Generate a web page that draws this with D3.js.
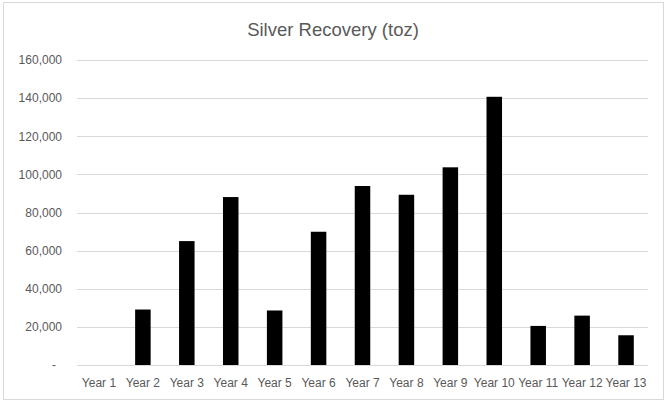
<!DOCTYPE html>
<html>
<head>
<meta charset="utf-8">
<script src="https://cdn.jsdelivr.net/npm/d3@7"></script>
<style>
  html, body { margin: 0; padding: 0; background: #ffffff; }
  svg { display: block; }
</style>
</head>
<body>
<svg id="chart" width="668" height="405"></svg>
<script>
const title = "Silver Recovery (toz)";
const categories = ["Year 1","Year 2","Year 3","Year 4","Year 5","Year 6","Year 7","Year 8","Year 9","Year 10","Year 11","Year 12","Year 13"];
const silverToz = [0, 29100, 65000, 88100, 28600, 69900, 93900, 89300, 103700, 140700, 20500, 25900, 15600];
const yTicks = [0, 20000, 40000, 60000, 80000, 100000, 120000, 140000, 160000];

const svg = d3.select("#chart");
const font = "'Liberation Sans', Arial, sans-serif";
const textColor = "#595959";
const gridColor = "#d9d9d9";

// chart border
svg.append("rect")
  .attr("x", 3.5).attr("y", 2.5)
  .attr("width", 660).attr("height", 397)
  .attr("fill", "#ffffff")
  .attr("stroke", gridColor)
  .attr("stroke-width", 1);

const plot = { left: 77, right: 648, top: 60, bottom: 365 };

const x = d3.scaleBand()
  .domain(categories)
  .range([plot.left, plot.right])
  .paddingInner(0.647)
  .paddingOuter(0.3235);

const y = d3.scaleLinear()
  .domain([0, 160000])
  .range([plot.bottom, plot.top]);

// gridlines
const grid = svg.append("g")
  .attr("transform", `translate(${plot.left},0)`)
  .call(d3.axisLeft(y).tickValues(yTicks).tickSize(-(plot.right - plot.left)).tickFormat(""));
grid.select(".domain").remove();
grid.selectAll(".tick line")
  .attr("stroke", gridColor)
  .attr("stroke-width", 1)
  .attr("shape-rendering", "crispEdges");

// y labels
const yAxis = svg.append("g")
  .attr("transform", `translate(${plot.left - 15},0)`)
  .call(d3.axisLeft(y).tickValues(yTicks).tickSize(0)
    .tickFormat(d => d === 0 ? "-" : d3.format(",")(d)));
yAxis.select(".domain").remove();
yAxis.selectAll(".tick text")
  .attr("x", 0)
  .attr("dx", d => d === 0 ? -6 : 0)
  .attr("fill", textColor)
  .style("font-family", font)
  .style("font-size", "12px");

// bars
svg.append("g")
  .selectAll("rect")
  .data(categories.map((c, i) => ({ c, v: silverToz[i] })))
  .join("rect")
  .attr("x", d => x(d.c))
  .attr("width", x.bandwidth())
  .attr("y", d => y(d.v))
  .attr("height", d => y(0) - y(d.v))
  .attr("fill", "#000000");

// x labels
const xAxis = svg.append("g")
  .attr("transform", `translate(0,${plot.bottom})`)
  .call(d3.axisBottom(x).tickSize(0));
xAxis.select(".domain").remove();
xAxis.selectAll(".tick text")
  .attr("y", 0)
  .attr("dy", 0)
  .attr("transform", "translate(0,22)")
  .attr("fill", textColor)
  .style("font-family", font)
  .style("font-size", "12px");

// title
svg.append("text")
  .attr("x", 333)
  .attr("y", 36)
  .attr("text-anchor", "middle")
  .attr("fill", textColor)
  .style("font-family", font)
  .style("font-size", "18.5px")
  .text(title);
</script>
</body>
</html>
